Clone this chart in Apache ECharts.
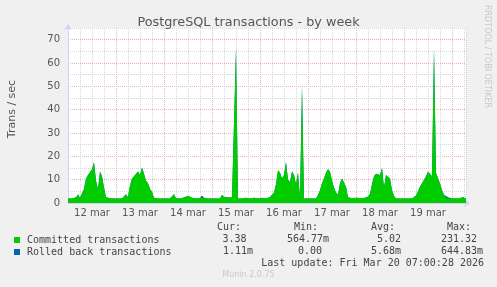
<!DOCTYPE html>
<html>
<head>
<meta charset="utf-8">
<script src="https://cdn.jsdelivr.net/npm/echarts@6/dist/echarts.min.js"></script>
<style>
  html, body { margin: 0; padding: 0; background: #f0f0f0; }
  #chart { width: 497px; height: 287px; }
</style>
</head>
<body>
<div id="chart"></div>
<script>
// hours since Mar 12 00:00, one value per hour, up to Mar 20 07:00
var committed = [
  1.9, 1.9, 1.9, 1.9, 2.5, 3.6, 2.2, 2.0, 6.0, 10.5,
  12.0, 12.8, 14.5, 17.5, 9.5, 6.0, 13.5, 11.5, 6.5, 2.5,
  1.9, 2.0, 1.9, 1.9, 2.2, 1.9, 1.9, 1.9, 2.0, 3.8,
  2.5, 7.5, 10.5, 11.5, 11.0, 13.5, 12.0, 15.2, 12.5, 9.5,
  8.5, 6.0, 4.8, 2.2, 1.9, 1.9, 2.2, 1.9, 1.9, 1.9,
  1.9, 1.9, 2.0, 3.8, 2.0, 1.9, 1.9, 1.9, 2.4, 2.9,
  3.1, 2.6, 2.2, 1.9, 1.9, 1.9, 2.1, 2.7, 2.2, 1.9,
  1.9, 1.9, 1.9, 1.9, 1.9, 1.9, 1.9, 3.5, 2.6, 2.0,
  2.5, 2.6, 2.4, 1.9, 66.0, 1.9, 1.9, 1.9, 2.3, 2.2,
  1.9, 1.9, 2.2, 2.3, 1.9, 1.9, 1.9, 2.3, 2.2, 1.9,
  2.2, 2.6, 3.4, 4.5, 8.0, 14.0, 13.0, 10.5, 12.0, 17.5,
  10.0, 9.0, 13.5, 12.0, 8.0, 13.0, 2.0, 50.0, 1.9, 1.9,
  1.9, 1.9, 1.9, 1.9, 1.9, 3.4, 5.5, 8.5, 10.5, 13.0,
  14.5, 13.5, 9.5, 6.5, 4.5, 3.5, 8.5, 10.5, 11.0, 7.0,
  2.5, 2.1, 2.0, 2.1, 2.2, 2.0, 2.1, 2.0, 2.1, 2.0,
  2.8, 4.0, 8.0, 11.5, 12.5, 13.0, 12.0, 15.0, 6.5, 12.0,
  12.5, 10.5, 5.5, 3.0, 1.9, 1.9, 1.9, 1.9, 1.9, 1.9,
  1.9, 1.9, 1.9, 1.9, 3.2, 4.0, 7.0, 8.5, 10.0, 11.0,
  13.5, 14.0, 11.5, 66.0, 13.0, 10.5, 8.5, 5.5, 3.5, 2.3,
  2.5, 1.9, 1.9, 2.0, 1.9, 1.9, 1.9, 2.5, 2.6, 2.0
];
var rolledBack = [
  0, 0, 0, 0, 0, 0, 0, 0, 0, 0,
  0, 0.5, 0, 0, 0, 0, 0, 0, 0, 0,
  0, 0, 0, 0, 0, 0, 0, 0, 0, 0,
  0, 0, 0, 0, 0, 0, 0, 0, 0, 0,
  0, 0, 0, 0, 0, 0, 0, 0, 0, 0,
  0, 0, 0, 0, 0, 0, 0, 0, 0, 0,
  0, 0, 0, 0, 0, 0, 0, 0.5, 0, 0,
  0, 0, 0, 0, 0, 0, 0, 0, 0, 0,
  0, 0, 0, 0, 0, 0, 0, 0, 0, 0,
  0, 0, 0, 0, 0, 0, 0, 0, 0, 0,
  0, 0, 0, 0, 0, 0, 0, 0, 0, 0,
  0, 0, 0, 0, 0, 0, 0, 0, 0, 0,
  0, 0, 0, 0, 0, 0, 0, 0, 0, 0,
  0, 0, 0, 0, 0, 0, 0, 0, 0, 0,
  0, 0, 0, 0, 0, 0, 0, 0, 0, 0,
  0, 0, 0, 0, 0, 0, 0, 0, 0, 0,
  0, 0, 0, 0, 0, 0, 0, 0, 0, 0,
  0, 0, 0, 0, 0, 0, 0, 0, 0, 0.5,
  0, 0, 0, 0, 0, 0, 0, 0, 0, 0.4,
  0, 0, 0, 0, 0, 0, 0, 0, 0, 0
];
var dayLabels = ['12 mar', '13 mar', '14 mar', '15 mar', '16 mar', '17 mar', '18 mar', '19 mar'];
var seriesNames = ['Committed transactions', 'Rolled back transactions'];
var statHeaders = ['Cur:', 'Min:', 'Avg:', 'Max:'];
var committedStats = ['3.38', '564.77m', '5.02', '231.32'];
var rolledBackStats = ['1.11m', '0.00', '5.68m', '644.83m'];

var chartDom = document.getElementById('chart');
var myChart = echarts.init(chartDom);
var option;

var mono = 'DejaVu Sans Mono';
var sans = 'DejaVu Sans';
var axisColor = '#cdd3f5';
var minorGrid = { color: '#d6d6d6', width: 1, type: [1, 1] };
var majorGrid = { color: '#f2b0b0', width: 1, type: [1, 1] };

// rolled back sits on top of committed (rrdtool STACK); drawn underneath so only the excess shows
var rolledBackTop = committed.map(function (v, i) { return [i, v + rolledBack[i]]; });

function statTexts(values, xs, y) {
  return values.map(function (s, i) {
    return {
      type: 'text', left: xs[i], top: y,
      style: { text: s, font: '10px ' + mono, fill: '#444' }
    };
  });
}

var graphics = [
  {
    type: 'text', x: 12, y: 109, rotation: Math.PI / 2,
    style: { text: 'Trans / sec', font: '11px ' + sans, fill: '#555', align: 'center', verticalAlign: 'middle' }
  },
  {
    type: 'text', x: 487, y: 5, rotation: -Math.PI / 2,
    style: { text: 'RRDTOOL / TOBI OETIKER', font: '8px ' + sans, fill: '#c8c8c8', align: 'left', verticalAlign: 'middle' }
  },
  {
    type: 'text', left: 'center', top: 271,
    style: { text: 'Munin 2.0.75', font: '8px ' + sans, fill: '#c8c8c8' }
  },
  {
    type: 'text', right: 13, top: 258,
    style: { text: 'Last update: Fri Mar 20 07:00:28 2026', font: '10px ' + mono, fill: '#444' }
  }
];
graphics = graphics
  .concat(statTexts(statHeaders, [217, 294, 371, 447], 222))
  .concat(statTexts(committedStats, [222.5, 287, 377, 441], 234))
  .concat(statTexts(rolledBackStats, [223, 298, 371, 441], 246));

option = {
  backgroundColor: '#f0f0f0',
  animation: false,
  title: {
    text: 'PostgreSQL transactions - by week',
    left: 'center',
    top: 11,
    textStyle: { fontFamily: sans, fontSize: 12.8, fontWeight: 'normal', color: '#555' }
  },
  legend: {
    orient: 'vertical',
    left: 14,
    top: 234,
    padding: 0,
    itemGap: 0,
    itemWidth: 6,
    itemHeight: 6,
    icon: 'rect',
    selectedMode: false,
    textStyle: { fontFamily: mono, fontSize: 10, color: '#444', lineHeight: 12, padding: [0, 0, 0, 2] },
    data: seriesNames
  },
  grid: {
    left: 68,
    top: 28,
    width: 398,
    height: 175,
    show: true,
    backgroundColor: '#ffffff',
    borderWidth: 0
  },
  xAxis: [
    {
      type: 'value',
      min: 0,
      max: 199,
      interval: 6,
      axisLine: { lineStyle: { color: axisColor }, symbol: ['none', 'arrow'], symbolSize: [6, 6], symbolOffset: [0, 4] },
      axisTick: { show: false },
      axisLabel: {
        color: '#555', fontFamily: sans, fontSize: 10, margin: 5,
        showMaxLabel: false,
        formatter: function (v) {
          if (v % 24 === 12) { return dayLabels[(v - 12) / 24] || ''; }
          return '';
        }
      },
      splitLine: { show: true, showMinLine: false, lineStyle: minorGrid }
    },
    {
      type: 'value',
      min: 0,
      max: 199,
      interval: 24,
      axisLine: { show: false },
      axisTick: { show: false },
      axisLabel: { show: false },
      splitLine: { show: true, showMinLine: false, showMaxLine: false, lineStyle: majorGrid }
    }
  ],
  yAxis: [
    {
      type: 'value',
      min: 0,
      max: 75,
      interval: 5,
      axisLine: { show: true, lineStyle: { color: axisColor }, symbol: ['none', 'arrow'], symbolSize: [6, 6], symbolOffset: [0, 4] },
      axisTick: { show: false },
      axisLabel: {
        color: '#555', fontFamily: sans, fontSize: 10, margin: 8,
        formatter: function (v) { return v % 10 === 0 ? String(v) : ''; }
      },
      splitLine: { show: true, showMinLine: false, lineStyle: minorGrid }
    },
    {
      type: 'value',
      min: 0,
      max: 75,
      interval: 10,
      axisLine: { show: false },
      axisTick: { show: false },
      axisLabel: { show: false },
      splitLine: { show: true, showMinLine: false, showMaxLine: false, lineStyle: majorGrid }
    }
  ],
  series: [
    {
      name: seriesNames[1],
      type: 'line',
      symbol: 'none',
      color: '#0066b3',
      lineStyle: { width: 0 },
      areaStyle: { color: '#0066b3', opacity: 1 },
      data: rolledBackTop
    },
    {
      name: seriesNames[0],
      type: 'line',
      symbol: 'none',
      color: '#00cc00',
      lineStyle: { width: 0 },
      areaStyle: { color: '#00cc00', opacity: 1 },
      data: committed.map(function (v, i) { return [i, v]; })
    }
  ],
  graphic: graphics
};

option && myChart.setOption(option);
window.addEventListener('resize', function () { myChart.resize(); });
</script>
</body>
</html>
